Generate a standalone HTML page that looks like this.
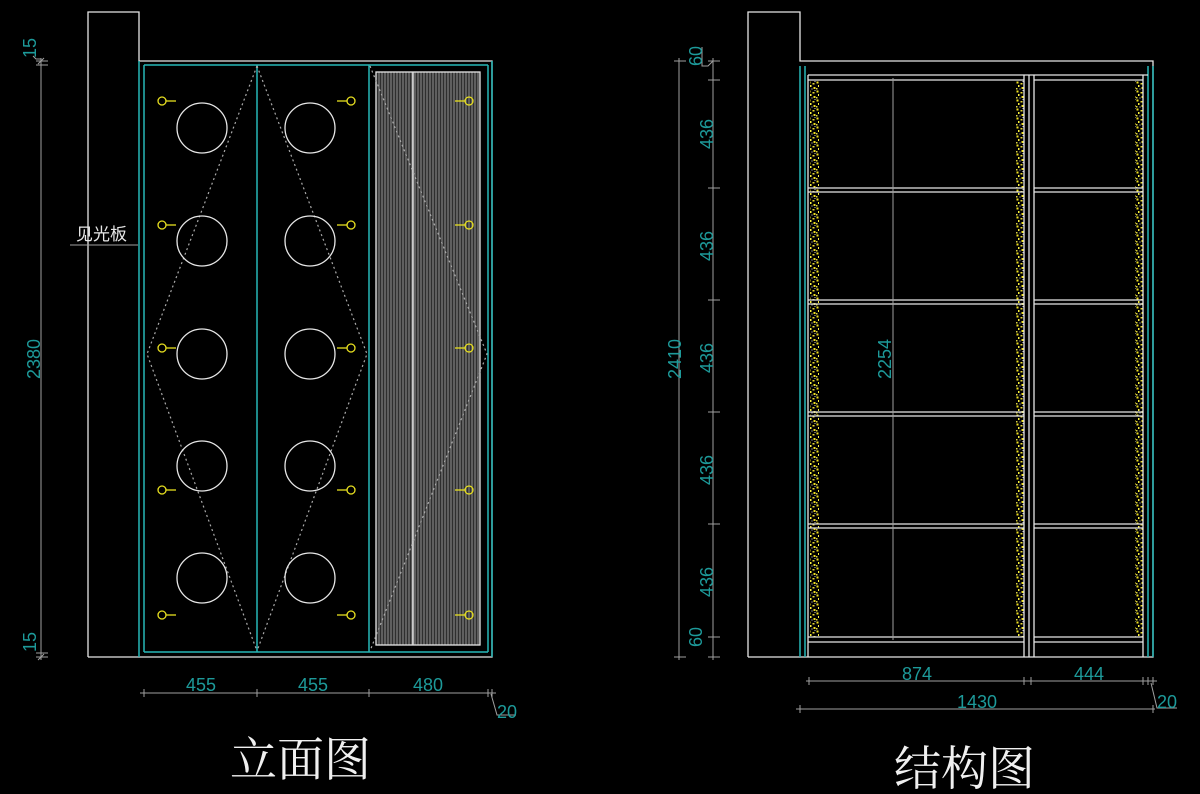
<!DOCTYPE html>
<html><head><meta charset="utf-8"><style>
html,body{margin:0;padding:0;background:#000;width:1200px;height:794px;overflow:hidden}
svg{display:block}
.d{fill:#1d9a9a;font-family:"Liberation Sans",sans-serif;font-size:18px}
.w{stroke:#e6e6e6;fill:none;stroke-width:1.3}
.g{stroke:#a0a0a0;fill:none;stroke-width:1}
.c{stroke:#27b8b8;fill:none;stroke-width:1.5}
.y{stroke:#e8e020;fill:none;stroke-width:1.3}
.dot{stroke:#aaa;stroke-width:1.2;stroke-dasharray:2 3;fill:none}
</style></head><body>
<svg width="1200" height="794" viewBox="0 0 1200 794" xmlns="http://www.w3.org/2000/svg">
<defs>
<pattern id="gr" width="3" height="10" patternUnits="userSpaceOnUse">
<rect width="3" height="10" fill="#2e2e2e"/><line x1="1" y1="0" x2="1" y2="10" stroke="#909090" stroke-width="1"/>
</pattern>
<pattern id="sp" width="8" height="9" patternUnits="userSpaceOnUse">
<rect x="0.5" y="0.5" width="2" height="2" fill="#f0e020"/><rect x="4.5" y="2" width="2" height="1.5" fill="#e8d830"/>
<rect x="2" y="4" width="1.5" height="2" fill="#f8f040"/><rect x="5.5" y="6" width="2" height="2" fill="#f0e020"/>
<rect x="0" y="7" width="1.5" height="1.5" fill="#d8d040"/><rect x="3.5" y="7.5" width="1" height="1" fill="#ddd"/>
<rect x="6.5" y="0" width="1" height="1" fill="#ccc"/>
</pattern>
</defs>

<!-- LEFT: elevation -->
<path class="w" d="M88,657 V12 H139 V61 H492 V657 H88"/>
<line class="c" x1="139" y1="61" x2="139" y2="657"/>
<line class="c" x1="144" y1="65" x2="144" y2="652"/>
<line class="c" x1="144" y1="65" x2="488" y2="65"/>
<line class="c" x1="144" y1="652" x2="488" y2="652"/>
<line class="c" x1="488" y1="65" x2="488" y2="652"/>
<line class="c" x1="492" y1="61" x2="492" y2="657"/>
<line class="c" x1="257" y1="65" x2="257" y2="652"/>
<line class="c" x1="369" y1="65" x2="369" y2="652"/>
<rect x="376" y="72" width="104" height="573" fill="url(#gr)" stroke="#e6e6e6" stroke-width="1.3"/>
<line x1="413" y1="72" x2="413" y2="645" stroke="#ddd" stroke-width="1.5"/>
<path class="dot" d="M257,66 L147,354 L257,651 M257,66 L367,354 L257,651 M370,66 L487,354 L370,651"/>
<g class="w">
<circle cx="202" cy="128" r="25"/><circle cx="310" cy="128" r="25"/>
<circle cx="202" cy="241" r="25"/><circle cx="310" cy="241" r="25"/>
<circle cx="202" cy="354" r="25"/><circle cx="310" cy="354" r="25"/>
<circle cx="202" cy="466" r="25"/><circle cx="310" cy="466" r="25"/>
<circle cx="202" cy="578" r="25"/><circle cx="310" cy="578" r="25"/>
</g>
<g class="y">
<circle cx="162" cy="101" r="4"/><line x1="166" y1="101" x2="176" y2="101"/>
<circle cx="162" cy="225" r="4"/><line x1="166" y1="225" x2="176" y2="225"/>
<circle cx="162" cy="348" r="4"/><line x1="166" y1="348" x2="176" y2="348"/>
<circle cx="162" cy="490" r="4"/><line x1="166" y1="490" x2="176" y2="490"/>
<circle cx="162" cy="615" r="4"/><line x1="166" y1="615" x2="176" y2="615"/>
<circle cx="351" cy="101" r="4"/><line x1="337" y1="101" x2="347" y2="101"/>
<circle cx="351" cy="225" r="4"/><line x1="337" y1="225" x2="347" y2="225"/>
<circle cx="351" cy="348" r="4"/><line x1="337" y1="348" x2="347" y2="348"/>
<circle cx="351" cy="490" r="4"/><line x1="337" y1="490" x2="347" y2="490"/>
<circle cx="351" cy="615" r="4"/><line x1="337" y1="615" x2="347" y2="615"/>
<circle cx="469" cy="101" r="4"/><line x1="455" y1="101" x2="465" y2="101"/>
<circle cx="469" cy="225" r="4"/><line x1="455" y1="225" x2="465" y2="225"/>
<circle cx="469" cy="348" r="4"/><line x1="455" y1="348" x2="465" y2="348"/>
<circle cx="469" cy="490" r="4"/><line x1="455" y1="490" x2="465" y2="490"/>
<circle cx="469" cy="615" r="4"/><line x1="455" y1="615" x2="465" y2="615"/>
</g>
<!-- left dims -->
<line class="g" x1="41" y1="58" x2="41" y2="660"/>
<path class="g" d="M36,61 H48 M36,657 H48 M38,64 L44,58 M38,660 L44,654 M36,65 H48 M36,653 H48"/>
<path class="g" d="M33,56 L36,59 H41"/>
<text class="d" transform="translate(36,58) rotate(-90)">15</text>
<text class="d" transform="translate(40,379) rotate(-90)" textLength="40">2380</text>
<text class="d" transform="translate(36,652) rotate(-90)">15</text>
<text x="76" y="240" fill="#e6e6e6" font-family="'Liberation Sans','Noto Sans CJK SC',sans-serif" font-size="17">见光板</text>
<line class="g" x1="70" y1="245" x2="138" y2="245"/>
<!-- bottom dims -->
<line class="g" x1="140" y1="693" x2="496" y2="693"/>
<path class="g" d="M144,689 V697 M257,689 V697 M369,689 V697 M488,689 V697 M492,689 V697 M491,694 L497,715 H516"/>
<text class="d" x="186" y="691">455</text>
<text class="d" x="298" y="691">455</text>
<text class="d" x="413" y="691">480</text>
<text class="d" x="497" y="718">20</text>
<text x="230" y="776" fill="#f0f0f0" font-family="'Liberation Serif','Noto Serif CJK SC',serif" font-size="47">立面图</text>

<!-- RIGHT: structure -->
<path class="w" d="M748,657 V12 H800 V61 H1153 V657 H748"/>
<line class="c" x1="800" y1="66" x2="800" y2="657"/>
<line class="c" x1="805" y1="66" x2="805" y2="657"/>
<line class="c" x1="1148" y1="66" x2="1148" y2="657"/>
<line class="c" x1="1153" y1="66" x2="1153" y2="657"/>
<rect x="810" y="80" width="9" height="557" fill="url(#sp)"/>
<rect x="1016" y="80" width="8" height="557" fill="url(#sp)"/>
<rect x="1135" y="80" width="8" height="557" fill="url(#sp)"/>
<g class="w">
<line x1="808" y1="75" x2="1148" y2="75"/>
<line x1="808" y1="75" x2="808" y2="657"/>
<line x1="1143" y1="75" x2="1143" y2="657"/>
<line x1="1024" y1="75" x2="1024" y2="657"/>
<line x1="1029" y1="75" x2="1029" y2="657"/>
<line x1="1034" y1="75" x2="1034" y2="657"/>
<path d="M808,80 H1024 M1034,80 H1143"/>
<path d="M808,188 H1024 M1034,188 H1143 M808,192 H1024 M1034,192 H1143"/>
<path d="M808,300 H1024 M1034,300 H1143 M808,304 H1024 M1034,304 H1143"/>
<path d="M808,412 H1024 M1034,412 H1143 M808,416 H1024 M1034,416 H1143"/>
<path d="M808,524 H1024 M1034,524 H1143 M808,528 H1024 M1034,528 H1143"/>
<path d="M808,637 H1024 M1034,637 H1143 M808,642 H1024 M1034,642 H1143"/>
</g>
<line class="g" x1="893" y1="78" x2="893" y2="640"/>
<text class="d" transform="translate(891,379) rotate(-90)" textLength="40">2254</text>
<!-- left dims right -->
<line class="g" x1="679" y1="58" x2="679" y2="660"/>
<line class="g" x1="713" y1="58" x2="713" y2="660"/>
<path class="g" d="M674,61 H686 M674,657 H686 M708,61 H720 M708,80 H720 M708,188 H720 M708,300 H720 M708,412 H720 M708,524 H720 M708,637 H720 M708,657 H720"/>
<path class="g" d="M702,47 V66 H708 L713,61"/>
<text class="d" transform="translate(702,66) rotate(-90)">60</text>
<text class="d" transform="translate(713,149) rotate(-90)">436</text>
<text class="d" transform="translate(713,261) rotate(-90)">436</text>
<text class="d" transform="translate(713,373) rotate(-90)">436</text>
<text class="d" transform="translate(713,485) rotate(-90)">436</text>
<text class="d" transform="translate(713,597) rotate(-90)">436</text>
<text class="d" transform="translate(702,647) rotate(-90)">60</text>
<text class="d" transform="translate(681,379) rotate(-90)" textLength="40">2410</text>
<!-- bottom dims -->
<line class="g" x1="806" y1="681" x2="1157" y2="681"/>
<path class="g" d="M809,677 V685 M1024,677 V685 M1031,677 V685 M1143,677 V685 M1148,677 V685 M1153,677 V685"/>
<line class="g" x1="796" y1="709" x2="1155" y2="709"/>
<path class="g" d="M800,705 V713 M1153,705 V713 M1151,683 L1157,708 H1177"/>
<text class="d" x="902" y="680">874</text>
<text class="d" x="1074" y="680">444</text>
<text class="d" x="957" y="708">1430</text>
<text class="d" x="1157" y="708">20</text>
<text x="894" y="785" fill="#f0f0f0" font-family="'Liberation Serif','Noto Serif CJK SC',serif" font-size="47">结构图</text>
</svg>
</body></html>
